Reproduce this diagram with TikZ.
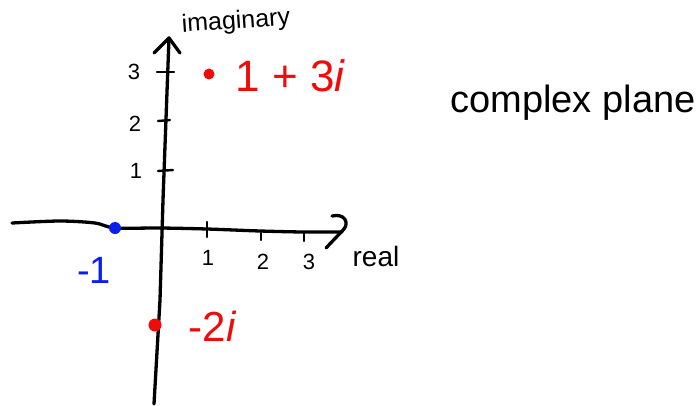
\documentclass[tikz,border=0pt]{standalone}
\usepackage{fontspec}
\setmainfont{Liberation Sans}
\definecolor{hred}{RGB}{240,10,10}
\definecolor{hblue}{RGB}{10,30,240}
\begin{document}
\begin{tikzpicture}[x=1pt,y=-1pt,
  pen/.style={line width=3.3pt,line cap=round,line join=round},
  tickmark/.style={line width=2.4pt,line cap=round},
  ticklabel/.style={font=\fontsize{22}{22}\selectfont,inner sep=0pt},
  redlabel/.style={text=hred,inner sep=0pt},
  dot/.style={circle,inner sep=0pt,minimum size=11pt}]
\useasboundingbox (0,0) rectangle (698,405);
% vertical axis
\coordinate (vbot) at (154,404);
\coordinate (vtop) at (169,38);
\coordinate (vaL) at (154,53);
\coordinate (vaR) at (180,53);
\draw[pen] (vbot) -- (160,300) -- (163,200) -- (vtop);
\draw[pen] (vaL) -- (vtop) -- (vaR);
% horizontal axis
\coordinate (hleft) at (12,223);
\coordinate (hright) at (342,232);
\coordinate (haT) at (332,216);
\coordinate (haTip) at (344,229);
\coordinate (haB) at (326,248);
\draw[pen] plot[smooth,tension=0.5] coordinates {(hleft) (60,221) (95,223) (115,228) (160,228) (207,229) (260,231) (303,232) (hright)};
\draw[pen] (haT) .. controls (345,213) and (349,223) .. (haTip) -- (haB);
% y ticks
\draw[tickmark] (157,72) -- (174,72);
\draw[tickmark] (158,121) -- (170,120);
\draw[tickmark] (158,171) -- (173,170);
\node[ticklabel] (y3) at (134,72) {3};
\node[ticklabel] (y2) at (135,124) {2};
\node[ticklabel] (y1) at (136,171) {1};
% x ticks
\draw[tickmark] (207,222) -- (207,237);
\draw[tickmark] (261,233) -- (261,240);
\draw[tickmark] (304,232) -- (304,241);
\node[ticklabel] (x1) at (208,258) {1};
\node[ticklabel] (x2) at (263,262) {2};
\node[ticklabel] (x3) at (309,262) {3};
% axis names
\node[inner sep=0pt,font=\fontsize{25}{25}\selectfont,rotate=4] (imag) at (236,22) {imaginary};
\node[inner sep=0pt,font=\fontsize{28}{28}\selectfont] (real) at (376,256) {real};
% points
\node[dot,fill=hred] (p1) at (209,74) {};
\node[redlabel,font=\fontsize{44}{44}\selectfont] (l1) at (290,76) {1 + 3\itshape i};
\node[dot,fill=hblue,minimum size=12pt] (p2) at (115,228) {};
\node[text=hblue,inner sep=0pt,font=\fontsize{38}{38}\selectfont] (l2) at (94,270) {-1};
\node[dot,fill=hred,minimum size=13pt] (p3) at (155,325) {};
\node[redlabel,font=\fontsize{42}{42}\selectfont] (l3) at (212,326) {-2\itshape i};
% title
\node[inner sep=0pt,font=\fontsize{38}{38}\selectfont] (title) at (573,103) {complex plane};
\end{tikzpicture}
\end{document}
